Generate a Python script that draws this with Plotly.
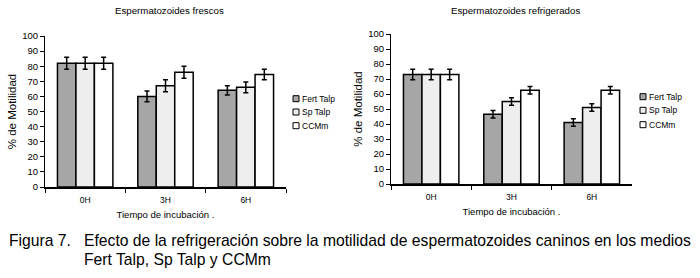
import plotly.graph_objects as go

categories = ["0H", "3H", "6H"]
series_names = ["Fert Talp", "Sp Talp", "CCMm"]
series_colors = ["#a6a6a6", "#eeeeee", "#ffffff"]

fresh_values = [[82, 60, 64], [82, 67, 66], [82, 76, 74.5]]
fresh_errors = [[4, 3.5, 3], [4, 4, 3.5], [4, 4, 3.5]]

cold_values = [[73, 46.5, 41], [73, 55, 51], [73, 62.5, 62.5]]
cold_errors = [[3.5, 2.5, 2.5], [3.5, 2.5, 2.5], [3.5, 2.5, 2.5]]

y_ticks = list(range(0, 101, 10))

FONT = "Liberation Sans, Arial, sans-serif"
W, H = 700, 278

fig = go.Figure()
for i, name in enumerate(series_names):
    fig.add_trace(go.Bar(
        x=categories, y=fresh_values[i], name=name,
        marker=dict(color=series_colors[i], line=dict(color="black", width=1.5)),
        error_y=dict(type="data", array=fresh_errors[i], color="black", thickness=1.5, width=2.5),
        xaxis="x", yaxis="y", showlegend=False))
for i, name in enumerate(series_names):
    fig.add_trace(go.Bar(
        x=categories, y=cold_values[i], name=name,
        marker=dict(color=series_colors[i], line=dict(color="black", width=1.5)),
        error_y=dict(type="data", array=cold_errors[i], color="black", thickness=1.5, width=2.5),
        xaxis="x2", yaxis="y2", showlegend=False))

def px_x(p):
    return p / W

def px_y(p):
    return 1 - p / H

yaxis_common = dict(range=[0, 100], tickvals=y_ticks, showline=True, linecolor="black", linewidth=1,
                    ticks="outside", ticklen=4, tickcolor="black", showgrid=False, zeroline=False,
                    automargin=False,
                    tickfont=dict(family=FONT, size=9.5, color="black"),
                    title=dict(text="% de Motilidad", font=dict(family=FONT, size=11.5, color="black"), standoff=3))
xaxis_common = dict(showline=True, linecolor="black", linewidth=1.5, ticks="outside", ticklen=4,
                    tickcolor="black", tickson="boundaries", showgrid=False, automargin=False,
                    ticklabelstandoff=4,
                    tickfont=dict(family=FONT, size=8.5, color="black"),
                    title=dict(text="Tiempo de incubación .", font=dict(family=FONT, size=9.5, color="black"), standoff=7))

shapes = []
annotations = []
legend_pos = [(293, [98.7, 112, 125.7]), (640, [96.7, 110.3, 124.7])]
for lx, ys in legend_pos:
    for i, name in enumerate(series_names):
        yc = ys[i]
        shapes.append(dict(type="rect", xref="paper", yref="paper",
                           x0=px_x(lx), x1=px_x(lx + 6), y0=px_y(yc + 3), y1=px_y(yc - 3),
                           fillcolor=series_colors[i], line=dict(color="black", width=1)))
        annotations.append(dict(text=name, x=px_x(lx + 7), y=px_y(yc), xref="paper", yref="paper",
                                xanchor="left", yanchor="middle", showarrow=False,
                                font=dict(family=FONT, size=8.5, color="black")))

annotations += [
    dict(text="Espermatozoides frescos", x=px_x(169), y=px_y(10), xref="paper", yref="paper",
         xanchor="center", yanchor="middle", showarrow=False, font=dict(family=FONT, size=9.7, color="black")),
    dict(text="Espermatozoides refrigerados", x=px_x(515), y=px_y(10), xref="paper", yref="paper",
         xanchor="center", yanchor="middle", showarrow=False, font=dict(family=FONT, size=9.7, color="black")),
    dict(text="Figura 7.", x=px_x(7), y=px_y(240), xref="paper", yref="paper", xanchor="left",
         yanchor="middle", showarrow=False, font=dict(family=FONT, size=15.7, color="black")),
    dict(text="Efecto de la refrigeración sobre la motilidad de espermatozoides caninos en los medios",
         x=px_x(82), y=px_y(240), xref="paper", yref="paper", xanchor="left", yanchor="middle",
         showarrow=False, font=dict(family=FONT, size=15.7, color="black")),
    dict(text="Fert Talp, Sp Talp y CCMm", x=px_x(82), y=px_y(259), xref="paper", yref="paper",
         xanchor="left", yanchor="middle", showarrow=False, font=dict(family=FONT, size=15.7, color="black")),
]

fig.update_layout(
    width=W, height=H, margin=dict(l=0, r=0, t=0, b=0, autoexpand=False),
    paper_bgcolor="white", plot_bgcolor="white",
    barmode="group", bargap=0.31, bargroupgap=0,
    xaxis=dict(domain=[px_x(45), px_x(286)], anchor="y", **xaxis_common),
    yaxis=dict(domain=[px_y(187), px_y(36)], anchor="x", **yaxis_common),
    xaxis2=dict(domain=[px_x(391), px_x(632)], anchor="y2", **xaxis_common),
    yaxis2=dict(domain=[px_y(184), px_y(34)], anchor="x2", **yaxis_common),
    showlegend=False,
    shapes=shapes,
    annotations=annotations,
)

fig.write_html("out.html", config={"displayModeBar": False},
               post_script="document.body.style.margin='0';document.body.style.padding='0';")
